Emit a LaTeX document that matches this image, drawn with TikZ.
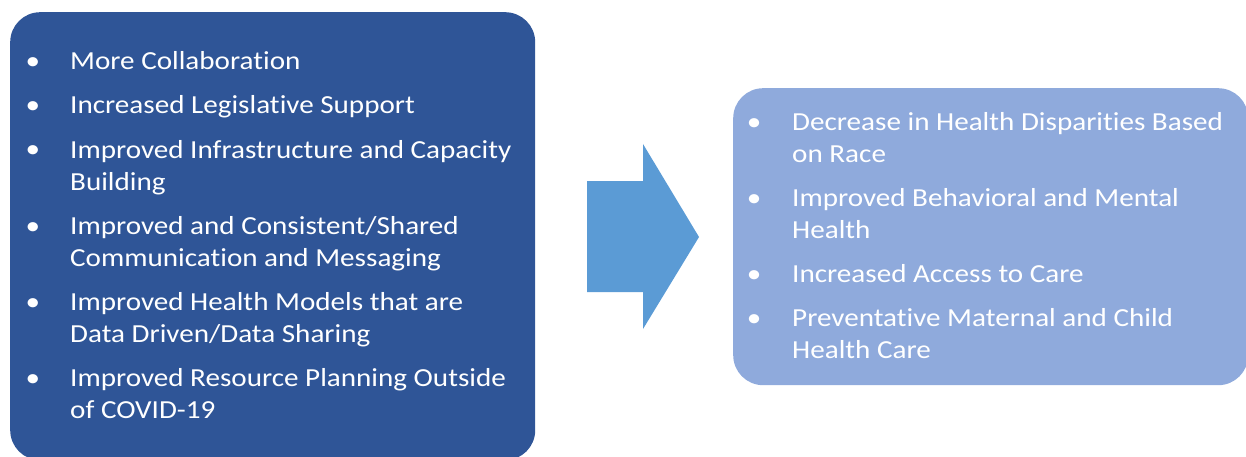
\documentclass[tikz,border=0pt]{standalone}
\usepackage{fontspec}
\setmainfont[FakeStretch=1.12, Ligatures=NoCommon]{Carlito}
\definecolor{causeblue}{HTML}{2F5597}
\definecolor{effectblue}{HTML}{8FAADC}
\definecolor{arrowblue}{HTML}{5B9BD5}
\tikzset{
  panel/.style={anchor=north west, inner sep=0, rounded corners=30pt},
  entry/.style={anchor=base west, inner sep=0, align=left, text=white,
    font=\fontsize{26}{32}\selectfont},
  bulletdot/.style={anchor=base, inner sep=0, text=white,
    font=\fontsize{26}{32}\selectfont},
}

\begin{document}
\begin{tikzpicture}[x=1pt, y=-1pt]
\useasboundingbox (0,0) rectangle (1246,457);
\clip (0,0) rectangle (1246,457);

% boxes
\node[panel, fill=causeblue, minimum width=525pt, minimum height=448pt] (causes) at (10,12) {};
\node[panel, fill=effectblue, minimum width=515pt, minimum height=297pt] (effects) at (733,88) {};

% arrow
\fill[arrowblue] (587,181) -- (643,181) -- (643,144) -- (699,237)
  -- (643,329) -- (643,292) -- (587,292) -- cycle;

% left list (base = last line)
\foreach \y in {70,114,158,234,310,386}
  \node[bulletdot] at (33,\y) {•};
\node[entry] (c1) at (70,70) {More Collaboration};
\node[entry] (c2) at (70,114) {Increased Legislative Support};
\node[entry] (c3) at (70,190) {Improved Infrastructure and Capacity\\Building};
\node[entry] (c4) at (70,266) {Improved and Consistent/Shared\\Communication and Messaging};
\node[entry] (c5) at (70,342) {Improved Health Models that are\\Data Driven/Data Sharing};
\node[entry] (c6) at (70,418) {Improved Resource Planning Outside\\of COVID-19};

% right list
\foreach \y in {131,206,282,326}
  \node[bulletdot] at (754,\y) {•};
\node[entry] (e1) at (792,163) {Decrease in Health Disparities Based\\on Race};
\node[entry] (e2) at (792,238) {Improved Behavioral and Mental\\Health};
\node[entry] (e3) at (792,282) {Increased Access to Care};
\node[entry] (e4) at (792,358) {Preventative Maternal and Child\\Health Care};
\end{tikzpicture}
\end{document}
